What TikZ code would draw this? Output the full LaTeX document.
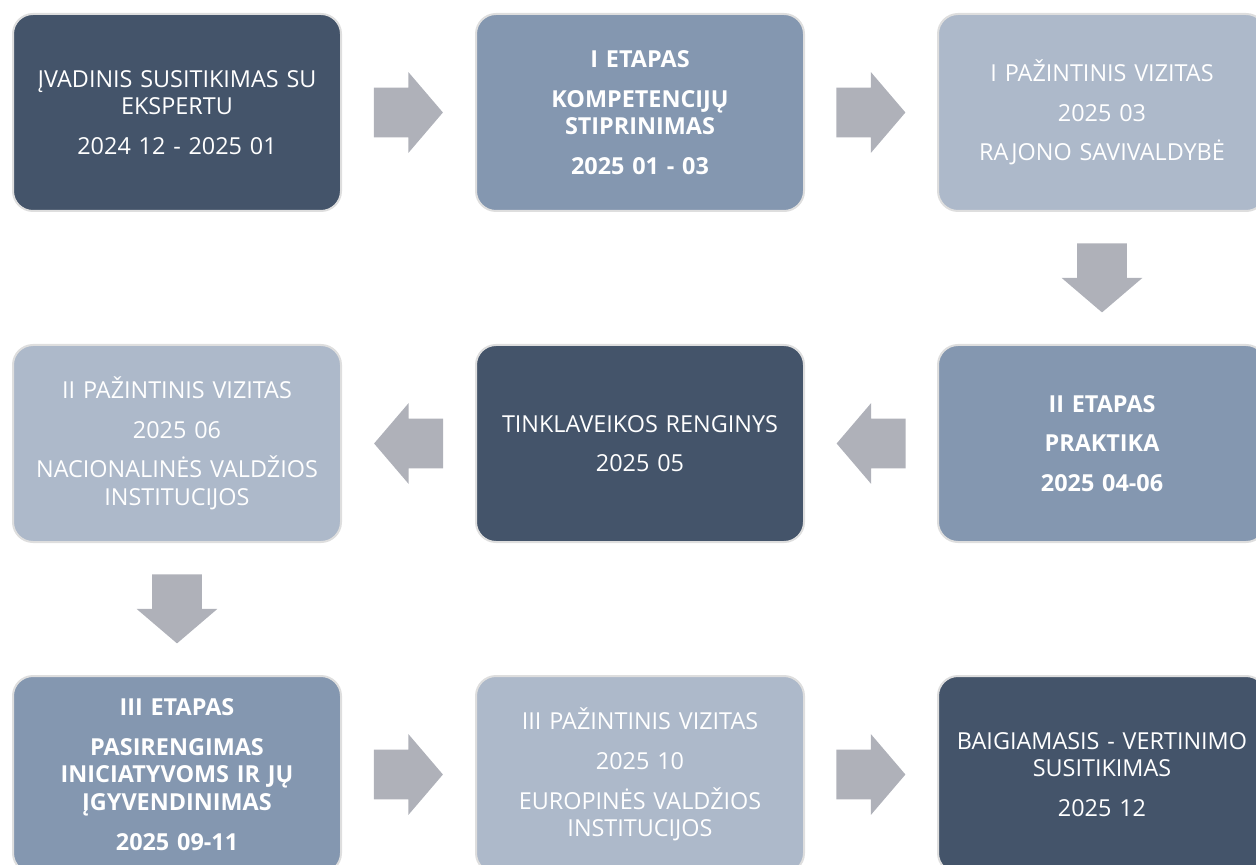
\documentclass[tikz,border=0pt]{standalone}
\usepackage{fontspec}
\setmainfont{Open Sans}
\usetikzlibrary{shapes.arrows,calc}
\definecolor{D}{RGB}{68, 84, 106}
\definecolor{M}{RGB}{132, 151, 176}
\definecolor{L}{RGB}{173, 185, 202}
\definecolor{A}{RGB}{175, 177, 185}
\definecolor{E}{RGB}{222, 222, 222}
\tikzset{
  stagebox/.style={draw=E, line width=1pt, rounded corners=10pt,
    minimum width=164pt, minimum height=98.5pt, text width=160pt,
    align=center, text=white, inner sep=0pt,
    font=\fontsize{11.7}{13.8}\selectfont},
  darkbox/.style={stagebox, fill=D},
  midbox/.style={stagebox, fill=M, font=\fontsize{11.7}{13.8}\selectfont\bfseries},
  lightbox/.style={stagebox, fill=L},
  blockarrow/.style={single arrow, fill=A, draw=none, anchor=tail,
    text height=0pt, text depth=0pt, text width=0pt,
    minimum height=34.5pt, single arrow head extend=7.75pt,
    single arrow tip angle=99},
  sidearrow/.style={blockarrow, inner xsep=0pt, inner ysep=12.25pt},
  downarrow/.style={blockarrow, inner xsep=12.25pt, inner ysep=0pt,
    shape border rotate=270}
}

\begin{document}
\begin{tikzpicture}[x=0.5pt, y=-0.5pt]
  \useasboundingbox (0,0) rectangle (1256,865);
  \clip (0,0) rectangle (1256,865);
  % first row
  \node[darkbox] (start) at (177,112.5) {ĮVADINIS SUSITIKIMAS SU\\EKSPERTU\\[6pt]2024 12 - 2025 01};
  \node[midbox] (etap1) at (640,112.5) {I ETAPAS\\[6pt]KOMPETENCIJŲ\\STIPRINIMAS\\[6pt]2025 01 - 03};
  \node[lightbox] (viz1) at (1102,112.5) {I PAŽINTINIS VIZITAS\\[6pt]2025 03\\[6pt]RAJONO SAVIVALDYBĖ};
  % second row
  \node[midbox] (etap2) at (1102,443.5) {II ETAPAS\\[6pt]PRAKTIKA\\[6pt]2025 04-06};
  \node[darkbox] (renginys) at (640,443.5) {TINKLAVEIKOS RENGINYS\\[6pt]2025 05};
  \node[lightbox] (viz2) at (177,443.5) {II PAŽINTINIS VIZITAS\\[6pt]2025 06\\[6pt]NACIONALINĖS VALDŽIOS\\INSTITUCIJOS};
  % third row
  \node[midbox] (etap3) at (177,774.5) {III ETAPAS\\[6pt]PASIRENGIMAS\\INICIATYVOMS IR JŲ\\ĮGYVENDINIMAS\\[6pt]2025 09-11};
  \node[lightbox] (viz3) at (640,774.5) {III PAŽINTINIS VIZITAS\\[6pt]2025 10\\[6pt]EUROPINĖS VALDŽIOS\\INSTITUCIJOS};
  \node[darkbox] (pabaiga) at (1102,774.5) {BAIGIAMASIS - VERTINIMO\\SUSITIKIMAS\\[6pt]2025 12};
  % arrows
  \node[sidearrow] (a1) at ($(start.east)!0.5!(etap1.west)+(-35,0)$) {};
  \node[sidearrow] (a2) at ($(etap1.east)!0.5!(viz1.west)+(-35,0)$) {};
  \node[downarrow] (a3) at ($(viz1.south)!0.5!(etap2.north)+(0,-35)$) {};
  \node[sidearrow, shape border rotate=180] (a4) at ($(etap2.west)!0.5!(renginys.east)+(35,0)$) {};
  \node[sidearrow, shape border rotate=180] (a5) at ($(renginys.west)!0.5!(viz2.east)+(35,0)$) {};
  \node[downarrow] (a6) at ($(viz2.south)!0.5!(etap3.north)+(0,-35)$) {};
  \node[sidearrow] (a7) at ($(etap3.east)!0.5!(viz3.west)+(-35,0)$) {};
  \node[sidearrow] (a8) at ($(viz3.east)!0.5!(pabaiga.west)+(-35,0)$) {};
\end{tikzpicture}
\end{document}
